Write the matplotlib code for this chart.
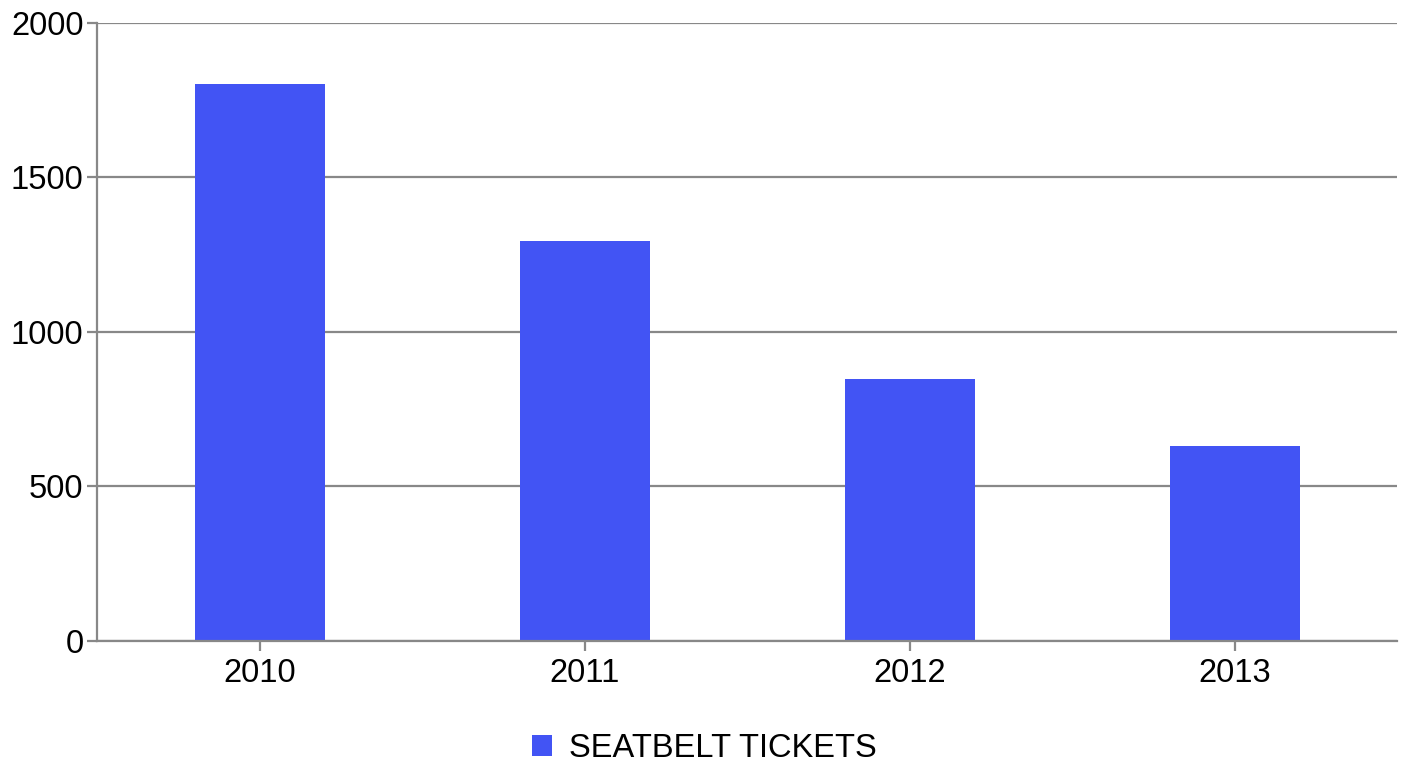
import matplotlib.pyplot as plt

years = ['2010', '2011', '2012', '2013']
tickets = [1802, 1295, 849, 632]
y_ticks = [0, 500, 1000, 1500, 2000]

plt.rcParams['font.family'] = ['Liberation Sans', 'DejaVu Sans']

fig = plt.figure(figsize=(14.08, 7.63), dpi=100)
ax = fig.add_axes([0.0692, 0.1599, 0.9230, 0.8100])

grey = '#888888'
bar_color = '#4254F4'

x = range(len(years))
ax.bar(x, tickets, width=0.4, color=bar_color, label='SEATBELT TICKETS', zorder=2)

ax.set_xlim(-0.5, 3.5)
ax.set_ylim(0, 2000)
ax.set_yticks(y_ticks)
ax.set_xticks(list(x))
ax.set_xticklabels(years)
ax.yaxis.grid(True, color=grey, linewidth=1.6, zorder=1)
ax.set_axisbelow(True)

for side in ['top', 'right']:
    ax.spines[side].set_visible(False)
for side in ['left', 'bottom']:
    ax.spines[side].set_color(grey)
    ax.spines[side].set_linewidth(1.6)
    ax.spines[side].set_zorder(3)

ax.tick_params(axis='both', colors=grey, width=1.6, length=7, labelcolor='black',
               labelsize=23.5, pad=3)
ax.tick_params(axis='x', pad=5)

fig.legend(loc='center', bbox_to_anchor=(0.5, 0.019), ncol=1, frameon=False,
           fontsize=23.5, handlelength=0.61, handleheight=0.61, handletextpad=0.52,
           borderaxespad=0, bbox_transform=fig.transFigure)

fig.savefig('out.png', dpi=100)
